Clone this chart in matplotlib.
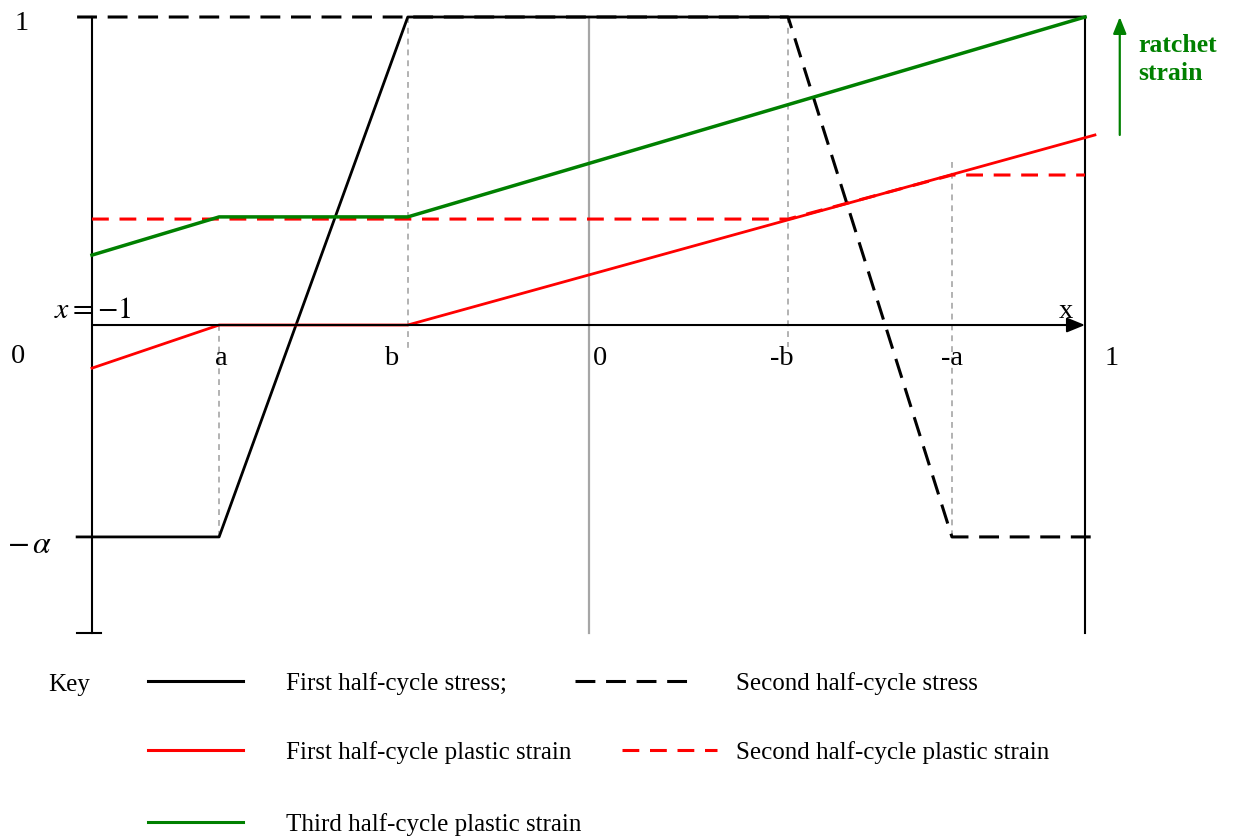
import matplotlib.pyplot as plt
from matplotlib.lines import Line2D

plt.rcParams['font.family'] = ['Liberation Serif', 'DejaVu Serif']
plt.rcParams['mathtext.fontset'] = 'stix'

# key positions along the bar, x in [-1, 1]
a, b, neg_b, neg_a = -0.744, -0.364, 0.402, 0.732
alpha = 0.688

# stress distributions
stress1_x = [-1.03, a, b, 1.0]
stress1_y = [-alpha, -alpha, 1.0, 1.0]
stress2_x = [-1.03, neg_b, neg_a, 1.02]
stress2_y = [1.0, 1.0, -alpha, -alpha]

# plastic strain after each half-cycle
plastic1_x = [-1.0, a, b, 1.02]
plastic1_y = [-0.14, 0.0, 0.0, 0.617]
plastic2_x = [-1.0, neg_b, neg_a, 1.0]
plastic2_y = [0.344, 0.344, 0.487, 0.487]
plastic3_x = [-1.0, a, b, 1.0]
plastic3_y = [0.227, 0.351, 0.351, 1.0]

x_marks = ['a', 'b', '0', '-b', '-a', '1']
x_mark_pos = [-0.74, -0.398, 0.023, 0.39, 0.732, 1.054]

RED = '#ff0000'
GREEN = '#008000'
GRAY = '#a6a6a6'
dash_black = (0, (6.5, 3.5))
dash_red = (0, (5.5, 3.5))
dash_gray = (0, (3.5, 3))

fig = plt.figure(figsize=(12.35, 8.36), dpi=100)
ax = fig.add_axes([0, 0, 1, 1])
ax.set_xlim(-1.1853, 1.3021)
ax.set_ylim(-1.659, 1.0552)
ax.axis('off')

# frame: bar ends, centre line and x axis
ax.plot([-1, -1], [1, -1], color='black', lw=1.5)
ax.plot([1, 1], [1, -1], color='black', lw=1.5)
ax.plot([-1.03, -0.982], [-1, -1], color='black', lw=1.5)
ax.plot([0, 0], [1, -1], color=GRAY, lw=1.6)
ax.annotate('', xy=(1.0, 0), xytext=(-1.0, 0),
            arrowprops=dict(arrowstyle='-|>,head_length=1.1,head_width=0.45',
                            color='black', lw=1.5, shrinkA=0, shrinkB=0))

# vertical guides at a, b, -b, -a
ax.plot([a, a], [0, -alpha], color=GRAY, lw=1.2, ls=dash_gray)
ax.plot([b, b], [1, -0.08], color=GRAY, lw=1.2, ls=dash_gray)
ax.plot([neg_b, neg_b], [1, -0.07], color=GRAY, lw=1.2, ls=dash_gray)
ax.plot([neg_a, neg_a], [0.53, -alpha], color=GRAY, lw=1.2, ls=dash_gray)

ax.plot(stress2_x, stress2_y, color='black', lw=2.2, ls=dash_black)
ax.plot(stress1_x, stress1_y, color='black', lw=2.0)
ax.plot(plastic2_x, plastic2_y, color=RED, lw=2.2, ls=dash_red)
ax.plot(plastic1_x, plastic1_y, color=RED, lw=2.0)
ax.plot(plastic3_x, plastic3_y, color=GREEN, lw=2.5)

# ratchet strain arrow
ax.annotate('', xy=(1.07, 1.0), xytext=(1.07, 0.617),
            arrowprops=dict(arrowstyle='-|>,head_length=1.0,head_width=0.4',
                            color=GREEN, lw=1.6, shrinkA=0, shrinkB=0))
ax.text(1.108, 0.862, 'ratchet\nstrain', color=GREEN, fontsize=18.5,
        fontweight='bold', ha='left', va='center', linespacing=1.3)

# axis annotations
lab_font = 20.5
ax.text(-1.141, 0.978, '1', fontsize=lab_font, ha='center', va='center')
ax.text(-1.149, -0.103, '0', fontsize=lab_font, ha='center', va='center')
ax.text(-1.125, -0.716, r'$-\,\alpha$', fontsize=23, ha='center', va='center')
ax.text(-0.998, 0.045, r'$x = -1$', fontsize=21.5, ha='center', va='center')
ax.text(0.962, 0.045, 'x', fontsize=lab_font, ha='center', va='center')
for lab, xp in zip(x_marks, x_mark_pos):
    ax.text(xp, -0.11, lab, fontsize=lab_font, ha='center', va='center')

# key below the chart, laid out in pixels
W, H = 1235, 836


def fx(px):
    return px / W


def fy(py):
    return 1 - py / H


key_font = 18
fig.text(fx(48), fy(685), 'Key', fontsize=key_font, va='center')
key_rows = [
    (148, 243, 681, 'black', '-', 286, 'First half-cycle stress;'),
    (575, 693, 681, 'black', dash_black, 736, 'Second half-cycle stress'),
    (148, 243, 750, RED, '-', 286, 'First half-cycle plastic strain'),
    (622, 717, 750, RED, dash_red, 736, 'Second half-cycle plastic strain'),
    (148, 243, 822, GREEN, '-', 286, 'Third half-cycle plastic strain'),
]
for x0, x1, yy, col, ls, tx, label in key_rows:
    fig.add_artist(Line2D([fx(x0), fx(x1)], [fy(yy), fy(yy)],
                          transform=fig.transFigure, color=col, lw=2.2, ls=ls))
    fig.text(fx(tx), fy(yy + 3), label, fontsize=key_font, va='center')

fig.savefig('out.png', dpi=100)
